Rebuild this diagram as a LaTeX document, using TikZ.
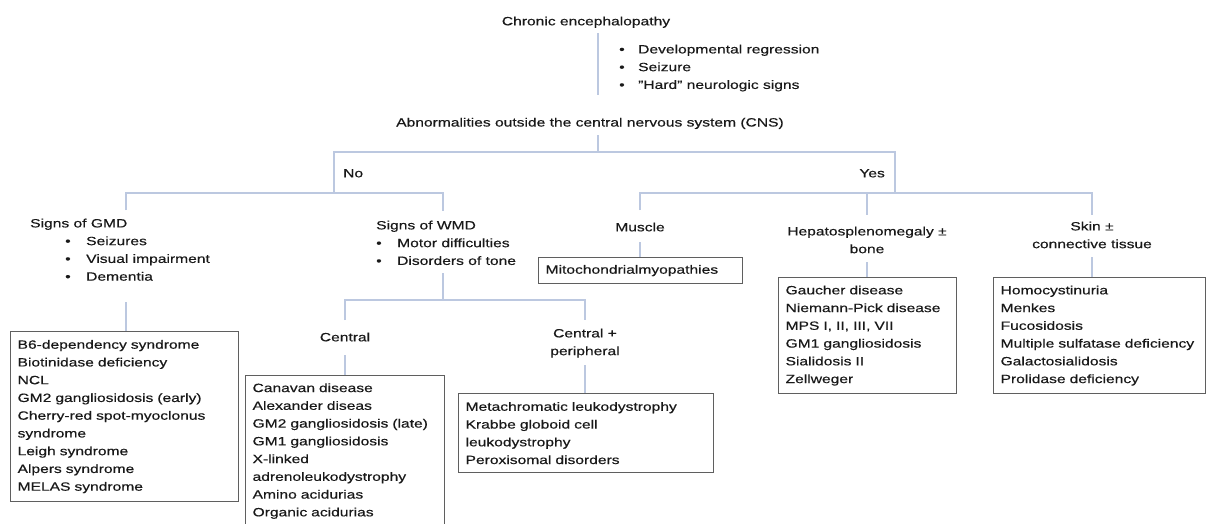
\documentclass[tikz,border=0pt]{standalone}
\usepackage{fontspec}
\setmainfont{Liberation Sans}[FakeStretch=1.3,FakeBold=0.4]
\definecolor{linkc}{RGB}{188,200,224}
\definecolor{boxc}{RGB}{95,95,95}
\definecolor{txtc}{RGB}{25,25,25}
\newcommand\dgfont{\fontsize{12}{17.75}\selectfont}
\newcommand\bul[1]{\makebox[#1][l]{•}}
\begin{document}
\begin{tikzpicture}[x=1pt,y=-1pt,
  lbl/.style={inner sep=0pt,text=txtc,font=\dgfont},
  listbox/.style={draw=boxc,line width=1.2pt,anchor=north west,align=left,
    inner xsep=7pt,inner ysep=0pt,text=txtc,font=\dgfont},
  link/.style={draw=linkc,line width=1.1pt}]
\clip (0,0) rectangle (1207,523);
\fill[white] (0,0) rectangle (1207,523);
% text nodes
\node[lbl,anchor=base] (chron) at (586,25.3) {Chronic encephalopathy};
\node[lbl,anchor=north west,align=left] (sympt) at (619,44.5)
  {\bul{19pt}Developmental regression\\\bul{19pt}Seizure\\\bul{19pt}\symbol{34}Hard\symbol{34} neurologic signs};
\node[lbl,anchor=base] (abn) at (590,126.5) {Abnormalities outside the central nervous system (CNS)};
\node[lbl,anchor=base west] (no) at (343,177.3) {No};
\node[lbl,anchor=base east] (yes) at (885,177.3) {Yes};
\node[lbl,anchor=north west,align=left] (gmd) at (30,218.5)
  {Signs of GMD\\\hspace*{35pt}\bul{21pt}Seizures\\\hspace*{35pt}\bul{21pt}Visual impairment\\\hspace*{35pt}\bul{21pt}Dementia};
\node[lbl,anchor=north west,align=left] (wmd) at (376,220.5)
  {Signs of WMD\\\bul{21pt}Motor difficulties\\\bul{21pt}Disorders of tone};
\node[lbl,anchor=base] (muscle) at (640,231.3) {Muscle};
\node[lbl,anchor=north,align=center] (hep) at (867,226.5) {Hepatosplenomegaly ±\\bone};
\node[lbl,anchor=north,align=center] (skin) at (1092,221.5) {Skin ±\\connective tissue};
\node[lbl,anchor=base] (central) at (345,341.3) {Central};
\node[lbl,anchor=north,align=center] (cp) at (585,328.5) {Central +\\peripheral};
% boxes
\node[listbox,text width=214pt,minimum height=170pt] (gmdbox) at (10,331)
  {B6-dependency syndrome\\Biotinidase deficiency\\NCL\\GM2 gangliosidosis (early)\\Cherry-red spot-myoclonus\\syndrome\\Leigh syndrome\\Alpers syndrome\\MELAS syndrome};
\node[listbox,text width=185pt,minimum height=151pt] (cbox) at (245,375)
  {Canavan disease\\Alexander diseas\\GM2 gangliosidosis (late)\\GM1 gangliosidosis\\X-linked\\adrenoleukodystrophy\\Amino acidurias\\Organic acidurias};
\node[listbox,text width=241pt,minimum height=79pt] (cpbox) at (458,393)
  {Metachromatic leukodystrophy\\Krabbe globoid cell\\leukodystrophy\\Peroxisomal disorders};
\node[listbox,text width=190pt,minimum height=26pt] (mitobox) at (538,257)
  {Mitochondrialmyopathies};
\node[listbox,text width=164pt,minimum height=116pt] (hepbox) at (778,277)
  {Gaucher disease\\Niemann-Pick disease\\MPS I, II, III, VII\\GM1 gangliosidosis\\Sialidosis II\\Zellweger};
\node[listbox,text width=198pt,minimum height=116pt] (skinbox) at (993,277)
  {Homocystinuria\\Menkes\\Fucosidosis\\Multiple sulfatase deficiency\\Galactosialidosis\\Prolidase deficiency};
% junction coordinates
\coordinate (t1) at (598,33);
\coordinate (t2) at (598,95);
\coordinate (t3) at (598,135);
\coordinate (split) at (598,152);
\coordinate (noC) at (334,152);
\coordinate (yesC) at (895,152);
\coordinate (noD) at (334,193);
\coordinate (yesD) at (895,193);
\coordinate (gmdC) at (126,193);
\coordinate (gmdE) at (126,210);
\coordinate (wmdC) at (443,193);
\coordinate (wmdE) at (443,211);
\coordinate (musC) at (640,193);
\coordinate (musE) at (640,210);
\coordinate (hepC) at (867,193);
\coordinate (hepE) at (867,215);
\coordinate (skC) at (1092,193);
\coordinate (skE) at (1092,215);
\coordinate (gmdS) at (126,302);
\coordinate (wmdS) at (443,273);
\coordinate (wmdJ) at (443,300);
\coordinate (cenC) at (345,300);
\coordinate (cenE) at (345,320);
\coordinate (cpC) at (585,300);
\coordinate (cpE) at (585,320);
\coordinate (cenS) at (345,355);
\coordinate (cpS) at (585,365);
\coordinate (musS) at (640,242);
\coordinate (hepS) at (867,262);
\coordinate (skS) at (1092,257);
% connectors
\draw[link] (t1) -- (t2);
\draw[link] (t3) -- (split);
\draw[link] (noD) -- (noC) -- (yesC) -- (yesD);
\draw[link] (gmdE) -- (gmdC) -- (wmdC) -- (wmdE);
\draw[link] (musE) -- (musC) -- (skC) -- (skE);
\draw[link] (hepC) -- (hepE);
\draw[link] (gmdS) -- (gmdS |- gmdbox.north);
\draw[link] (wmdS) -- (wmdJ);
\draw[link] (cenE) -- (cenC) -- (cpC) -- (cpE);
\draw[link] (cenS) -- (cenS |- cbox.north);
\draw[link] (cpS) -- (cpS |- cpbox.north);
\draw[link] (musS) -- (musS |- mitobox.north);
\draw[link] (hepS) -- (hepS |- hepbox.north);
\draw[link] (skS) -- (skS |- skinbox.north);
\end{tikzpicture}
\end{document}
